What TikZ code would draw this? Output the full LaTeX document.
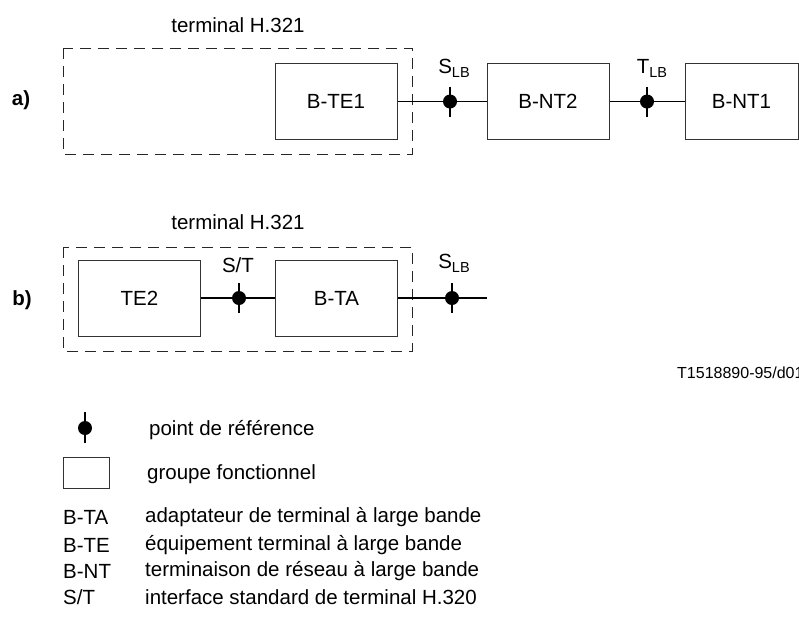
\documentclass[tikz,border=0pt]{standalone}
\usepackage{fontspec}
\setmainfont{Liberation Sans}
\newcommand{\subLB}{\raisebox{-4pt}{\fontsize{14.5}{16}\selectfont LB}}
\begin{document}
\begin{tikzpicture}[x=1pt,y=-1pt,
  every node/.style={font=\fontsize{20.5}{24}\selectfont},
  fbox/.style={draw=black!80, line width=1pt, minimum width=122pt, minimum height=76pt, inner sep=0pt},
  dbox/.style={draw=black!85, line width=1pt, dash pattern=on 11pt off 7pt},
  conn/.style={line width=1.6pt},
  refdot/.style={circle, fill=black, minimum size=14pt, inner sep=0pt},
  lbl/.style={inner sep=0pt},
  sm/.style={font=\fontsize{16}{18}\selectfont}
]
\useasboundingbox (0,0) rectangle (799,619);

% ---------- a) ----------
\node[lbl] (ta) at (238,25) {terminal H.321};
\draw[dbox] (63,48) rectangle (412,154);
\node[lbl, font=\fontsize{20.5}{24}\selectfont\bfseries] (la) at (21,100) {a)};
\node[fbox] (bte1) at (336,101.5) {B-TE1};
\node[fbox] (bnt2) at (548,101.5) {B-NT2};
\node[fbox, minimum width=113pt] (bnt1) at (741.5,101.5) {B-NT1};
\node[refdot] (sa) at (450,101.5) {};
\node[refdot] (tb) at (647,101.5) {};
\draw[conn] (bte1.east) -- (sa) -- (bnt2.west);
\draw[conn] (bnt2.east) -- (tb) -- (bnt1.west);
\draw[conn] ([yshift=15pt]sa.center) -- ([yshift=-15pt]sa.center);
\draw[conn] ([yshift=15pt]tb.center) -- ([yshift=-15pt]tb.center);
\node[lbl] (sal) at (454,68) {S\subLB};
\node[lbl] (tbl) at (652,68) {T\subLB};

% ---------- b) ----------
\node[lbl] (tb2) at (238,222) {terminal H.321};
\draw[dbox] (63,247) rectangle (412,351);
\node[lbl, font=\fontsize{20.5}{24}\selectfont\bfseries] (lb) at (22,300) {b)};
\node[fbox] (te2) at (139.5,298) {TE2};
\node[fbox] (bta) at (336.5,298) {B-TA};
\node[refdot] (st) at (239,298) {};
\node[refdot] (sb) at (452,298) {};
\coordinate (send) at (487,298);
\draw[conn] (te2.east) -- (st) -- (bta.west);
\draw[conn] (bta.east) -- (sb) -- (send);
\draw[conn] ([yshift=15pt]st.center) -- ([yshift=-15pt]st.center);
\draw[conn] ([yshift=15pt]sb.center) -- ([yshift=-15pt]sb.center);
\node[lbl] (stl) at (238,265) {S/T};
\node[lbl] (sbl) at (454,263) {S\subLB};

\node[lbl, sm, anchor=west] (ref) at (677,373) {T1518890-95/d01};

% ---------- legend ----------
\node[refdot] (ld) at (85,428) {};
\draw[conn] ([yshift=16pt]ld.center) -- ([yshift=-15pt]ld.center);
\node[lbl, anchor=west] (lt1) at (149,430) {point de référence};
\node[draw=black!80, line width=1pt, minimum width=46pt, minimum height=31pt, inner sep=0pt] (lsq) at (86,472.5) {};
\node[lbl, anchor=west] (lt2) at (147,474) {groupe fonctionnel};
\node[lbl, anchor=west] (a1) at (63,517) {B-TA};
\node[lbl, anchor=west] (d1) at (145,517) {adaptateur de terminal à large bande};
\node[lbl, anchor=west] (a2) at (63,545) {B-TE};
\node[lbl, anchor=west] (d2) at (145,545) {équipement terminal à large bande};
\node[lbl, anchor=west] (a3) at (63,571) {B-NT};
\node[lbl, anchor=west] (d3) at (145,571) {terminaison de réseau à large bande};
\node[lbl, anchor=west] (a4) at (63,597) {S/T};
\node[lbl, anchor=west] (d4) at (145,597) {interface standard de terminal H.320};
\end{tikzpicture}
\end{document}
